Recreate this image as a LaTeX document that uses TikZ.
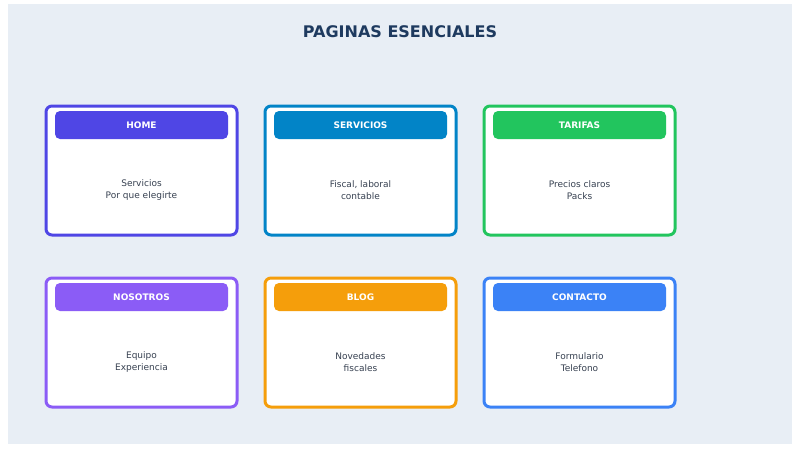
\documentclass[tikz,border=0pt]{standalone}
\usepackage{fontspec}
\setmainfont{DejaVu Sans}
\definecolor{bgc}{HTML}{E8EEF5}
\definecolor{titlec}{HTML}{1E3A5F}
\definecolor{bodyc}{HTML}{374151}
\definecolor{cA}{HTML}{4F46E5}
\definecolor{cB}{HTML}{0284C7}
\definecolor{cC}{HTML}{22C55E}
\definecolor{cD}{HTML}{8B5CF6}
\definecolor{cE}{HTML}{F59E0B}
\definecolor{cF}{HTML}{3B82F6}
\tikzset{
  cardbox/.style={draw=#1, line width=3pt, fill=white, rounded corners=6pt, minimum width=191pt, minimum height=129pt, inner sep=0pt},
  headbox/.style={fill=#1, rounded corners=5pt, minimum width=173pt, minimum height=28pt, inner sep=0pt, text=white, font=\bfseries\fontsize{9}{11}\selectfont},
  bodytext/.style={text=bodyc, align=center, font=\fontsize{9}{11.5}\selectfont, inner sep=0pt},
}
\begin{document}
\begin{tikzpicture}[x=1pt,y=-1pt]
\useasboundingbox (0,0) rectangle (800,450);
\fill[white] (0,0) rectangle (800,450);
\fill[bgc] (8,4) rectangle (792,444);
\node[text=titlec, font=\bfseries\fontsize{16}{19}\selectfont] (title) at (400,32) {PAGINAS ESENCIALES};
% row 1
\node[cardbox=cA] (home) at (141.5,170.5) {};
\node[headbox=cA] (homeh) at (141.5,125) {HOME};
\node[bodytext] (homeb) at (141.5,190) {Servicios\\Por que elegirte};
\node[cardbox=cB] (serv) at (360.5,170.5) {};
\node[headbox=cB] (servh) at (360.5,125) {SERVICIOS};
\node[bodytext] (servb) at (360.5,190) {Fiscal, laboral\\contable};
\node[cardbox=cC] (tar) at (579.5,170.5) {};
\node[headbox=cC] (tarh) at (579.5,125) {TARIFAS};
\node[bodytext] (tarb) at (579.5,190) {Precios claros\\Packs};
% row 2
\node[cardbox=cD] (nos) at (141.5,342.5) {};
\node[headbox=cD] (nosh) at (141.5,297) {NOSOTROS};
\node[bodytext] (nosb) at (141.5,362) {Equipo\\Experiencia};
\node[cardbox=cE] (blog) at (360.5,342.5) {};
\node[headbox=cE] (blogh) at (360.5,297) {BLOG};
\node[bodytext] (blogb) at (360.5,362) {Novedades\\fiscales};
\node[cardbox=cF] (cont) at (579.5,342.5) {};
\node[headbox=cF] (conth) at (579.5,297) {CONTACTO};
\node[bodytext] (contb) at (579.5,362) {Formulario\\Telefono};
\end{tikzpicture}
\end{document}
